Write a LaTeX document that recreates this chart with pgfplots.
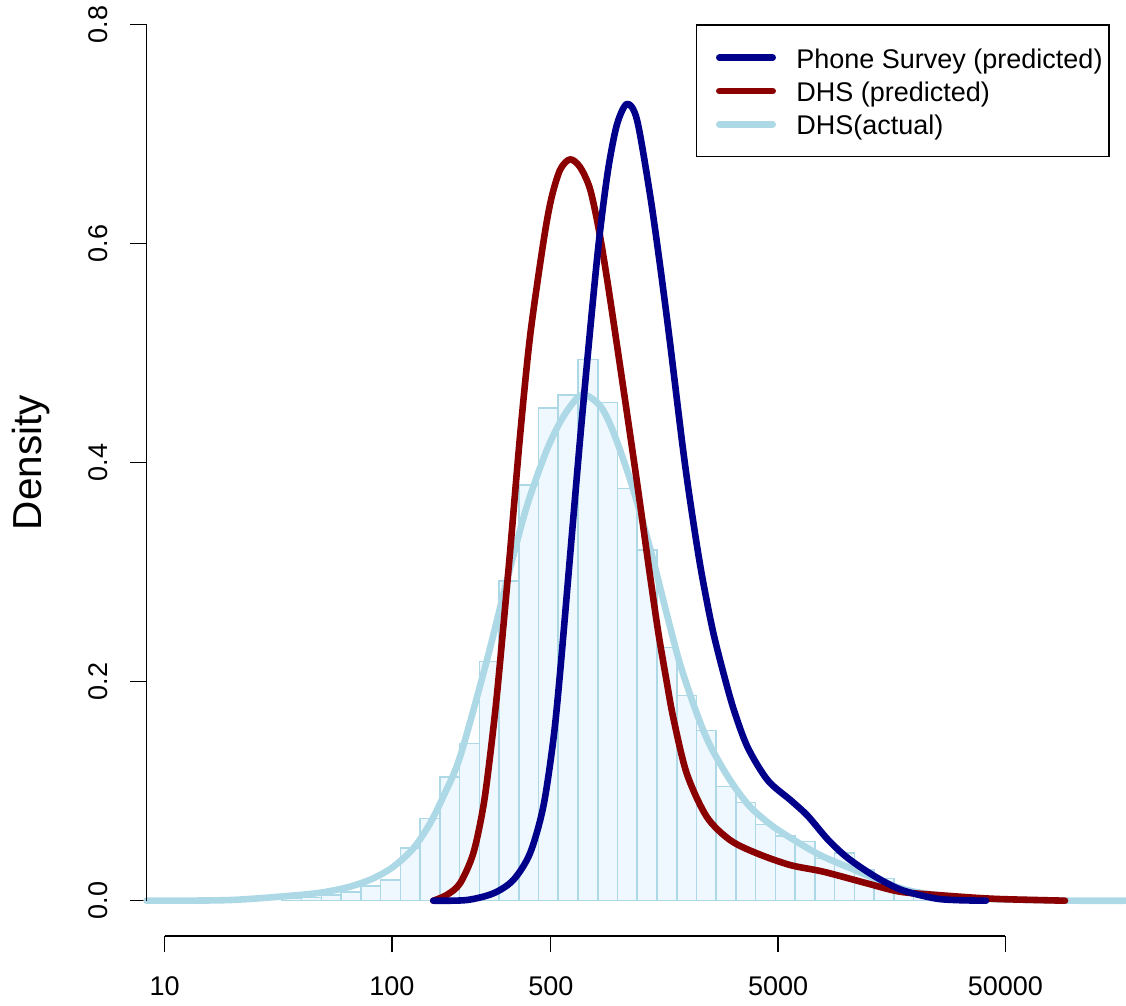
\documentclass[border=0pt]{standalone}
\usepackage{pgfplots}
\pgfplotsset{compat=1.18}
\usepackage{fontspec}
\setmainfont{Liberation Sans}
\definecolor{dblue}{HTML}{00008B}
\definecolor{dred}{HTML}{8B0000}
\definecolor{lblue}{HTML}{ADD8E6}
\definecolor{aliceblue}{HTML}{F0F8FF}
\newcommand\fs{\fontsize{13.5pt}{16pt}\selectfont}
\newcommand\fl{\fontsize{20.25pt}{24pt}\selectfont}
\begin{document}
\begin{tikzpicture}
\path[use as bounding box] (0,0) rectangle (563pt,503pt);
\begin{axis}[
  at={(73.35pt,35pt)}, anchor=south west,
  scale only axis, width=489.65pt, height=468pt,
  xmin=2.12021, xmax=12.04221, ymin=-0.032237, ymax=0.822557,
  axis line style={draw=none},
  tick pos=left, tick align=outside, major tick length=8.2pt,
  tick style={black, line width=0.65pt},
  xtick={2.302585,4.605170,6.214608,8.517193,10.819778},
  xticklabels={10,100,500,5000,50000},
  ytick={0,0.2,0.4,0.6,0.8},
  yticklabels={0.0,0.2,0.4,0.6,0.8},
  /pgf/number format/assume math mode=true,
  xticklabel style={font=\fs, anchor=base, inner sep=0pt},
  xticklabel shift=21.8pt,
  yticklabel style={font=\fs, rotate=90, anchor=south, inner sep=0pt},
  yticklabel shift=11pt,
  ylabel={Density},
  every axis y label/.style={at={(axis description cs:-0.10722,0.50566)}, rotate=90, anchor=base, font=\fl, inner sep=0pt},
  clip=false,
]
\addplot[ybar, bar width=0.2, bar shift=0pt, fill=aliceblue, draw=lblue, line width=0.8pt] coordinates {
(3.59,0.002) (3.79,0.003) (3.99,0.005) (4.19,0.008) (4.39,0.0134) (4.59,0.0189)
(4.79,0.0481) (4.99,0.0749) (5.19,0.1127) (5.39,0.1437) (5.59,0.2186) (5.79,0.2922)
(5.99,0.3794) (6.19,0.4502) (6.39,0.4616) (6.59,0.4944) (6.79,0.4548) (6.99,0.3763)
(7.19,0.3203) (7.39,0.2314) (7.59,0.1874) (7.79,0.1556) (7.99,0.1043) (8.19,0.0895)
(8.39,0.0694) (8.59,0.0591) (8.79,0.0542) (8.99,0.0387) (9.19,0.0433) (9.39,0.0280)
(9.59,0.0201) (9.79,0.0080) (9.99,0.0045) (10.19,0.0025) (10.39,0.001)
};
\addplot[lblue, line width=3.3pt, line cap=round, line join=round, smooth] coordinates {
(2.120,0) (2.964,0.0006) (3.640,0.005) (3.910,0.0077) (4.180,0.0128) (4.416,0.0204)
(4.619,0.0310) (4.822,0.0478) (4.991,0.0706) (5.125,0.0951) (5.295,0.1315)
(5.565,0.2189) (5.771,0.2929) (5.970,0.3597) (6.173,0.4113) (6.341,0.4420) (6.527,0.4618)
(6.713,0.4520) (6.848,0.4280) (7.034,0.3800) (7.220,0.3220) (7.389,0.2620) (7.524,0.2160)
(7.693,0.1711) (7.827,0.1420) (8.030,0.1102) (8.233,0.0858) (8.469,0.0676) (8.706,0.0539)
(8.942,0.0417) (9.213,0.0311) (9.820,0.0098) (10.492,0.0022) (11.441,0.0001) (12.042,0)
};
\addplot[dred, line width=3.3pt, line cap=round, line join=round, smooth] coordinates {
(5.0240,0) (5.1598,0.0052) (5.2945,0.0158) (5.4293,0.0433) (5.5306,0.0859) (5.5985,0.1316)
(5.6664,0.1860) (5.7332,0.2500) (5.8011,0.3180) (5.9024,0.4240) (6.0038,0.5150) (6.1355,0.5991)
(6.2166,0.6400) (6.3078,0.6673) (6.4091,0.6770) (6.5104,0.6700) (6.6117,0.6500) (6.7029,0.6120)
(6.7840,0.5680) (6.8822,0.5090) (6.9836,0.4470) (7.0849,0.3840) (7.1516,0.3410) (7.2194,0.2970)
(7.3035,0.2450) (7.3886,0.2000) (7.4555,0.1670) (7.5913,0.1163) (7.7939,0.0767) (8.0302,0.0554)
(8.3007,0.0433) (8.6381,0.0326) (8.9755,0.0265) (9.4152,0.0159) (9.7526,0.0082) (10.1579,0.0050)
(10.5632,0.0024) (10.8337,0.0013) (11.4244,0)
};
\addplot[dblue, line width=3.3pt, line cap=round, line join=round, smooth] coordinates {
(5.0240,0) (5.3624,0.0006) (5.6319,0.0067) (5.8346,0.0189) (6.0038,0.0433) (6.1385,0.0859)
(6.2398,0.1468) (6.3078,0.2076) (6.4091,0.3142) (6.5104,0.4207) (6.6117,0.5200) (6.7029,0.6030)
(6.7941,0.6670) (6.8853,0.7090) (6.9866,0.7276) (7.0880,0.7130) (7.2194,0.6450) (7.3171,0.5830)
(7.4149,0.5150) (7.5507,0.4146) (7.6348,0.3598) (7.7361,0.3020) (7.8547,0.2472) (7.9722,0.2050)
(8.0735,0.1730) (8.2093,0.1400) (8.4119,0.1100) (8.6480,0.0915) (8.8172,0.0775) (9.0199,0.0560)
(9.2225,0.0390) (9.4920,0.0225) (9.7626,0.0100) (10.0999,0.0022) (10.3370,0.0005) (10.6237,0)
};
\draw[line width=0.65pt] (axis cs:2.302585,-0.032237) -- (axis cs:10.819778,-0.032237);
\draw[line width=0.65pt] (axis cs:2.12021,0) -- (axis cs:2.12021,0.8);
\end{axis}
\begin{scope}[shift={(0pt,503pt)}, x=0.5pt, y=-0.5pt]
\draw[line width=0.65pt] (696.7,25) rectangle (1109,156.7);
\draw[dblue, line width=3.3pt, line cap=round] (719.3,57.7) -- (772.7,57.7);
\draw[dred, line width=3.3pt, line cap=round] (719.3,91) -- (772.7,91);
\draw[lblue, line width=3.3pt, line cap=round] (719.3,124.3) -- (772.7,124.3);
\node[anchor=base west, inner sep=0pt, font=\fs] at (796,68.3) {Phone Survey (predicted)};
\node[anchor=base west, inner sep=0pt, font=\fs] at (796,101.6) {DHS (predicted)};
\node[anchor=base west, inner sep=0pt, font=\fs] at (796,134.8) {DHS(actual)};
\end{scope}
\end{tikzpicture}
\end{document}
